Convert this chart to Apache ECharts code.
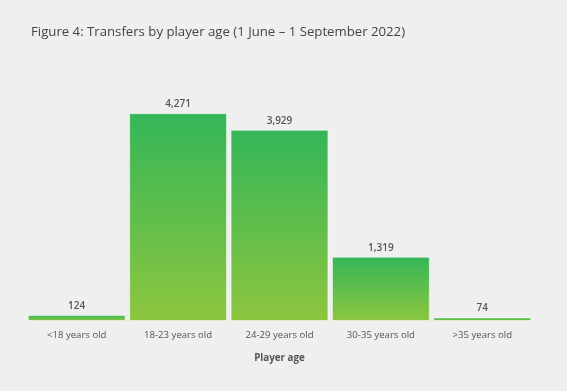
<!DOCTYPE html>
<html><head><meta charset="utf-8">
<style>html,body{margin:0;padding:0;background:#efefef;}#c{width:567px;height:391px;}</style>
<script src="https://cdn.jsdelivr.net/npm/echarts@6/dist/echarts.min.js"></script>
</head><body><div id="c"></div>
<script>
const categories = ['<18 years old', '18-23 years old', '24-29 years old', '30-35 years old', '>35 years old'];
const transfers = [124, 4271, 3929, 1319, 74];
const titleText = 'Figure 4: Transfers by player age (1 June \u2013 1 September 2022)';
const axisName = 'Player age';

const chart = echarts.init(document.getElementById('c'));
chart.setOption({
  backgroundColor: '#efefef',
  animation: false,
  title: {
    text: titleText, left: 26, top: 21,
    textStyle: {fontFamily: 'Open Sans', fontWeight: 'normal', fontSize: 13.2, color: '#444'}
  },
  grid: {left: 26, right: 34, top: 102, bottom: 70},
  xAxis: {
    type: 'category', data: categories,
    axisLine: {show: false}, axisTick: {show: false},
    axisLabel: {color: '#555', fontFamily: 'Open Sans', fontSize: 9.6, margin: 9},
    name: axisName, nameLocation: 'middle', nameGap: 32,
    nameTextStyle: {color: '#555', fontFamily: 'Open Sans', fontWeight: 'bold', fontSize: 9.8}
  },
  yAxis: {type: 'value', min: 0, max: 4500, show: false, splitLine: {show: false}},
  series: [{
    type: 'bar', data: transfers, barCategoryGap: '3.5%',
    itemStyle: {
      color: new echarts.graphic.LinearGradient(0, 0, 0, 1, [
        {offset: 0, color: '#34b658'}, {offset: 1, color: '#8dc63f'}
      ]),
      borderColor: 'rgba(255,255,255,0.5)', borderWidth: 1
    },
    label: {
      show: true, position: 'top', distance: 4, color: '#555',
      fontFamily: 'Open Sans', fontWeight: 600, fontSize: 10,
      formatter: p => p.value.toLocaleString('en-US')
    }
  }]
});
</script></body></html>
